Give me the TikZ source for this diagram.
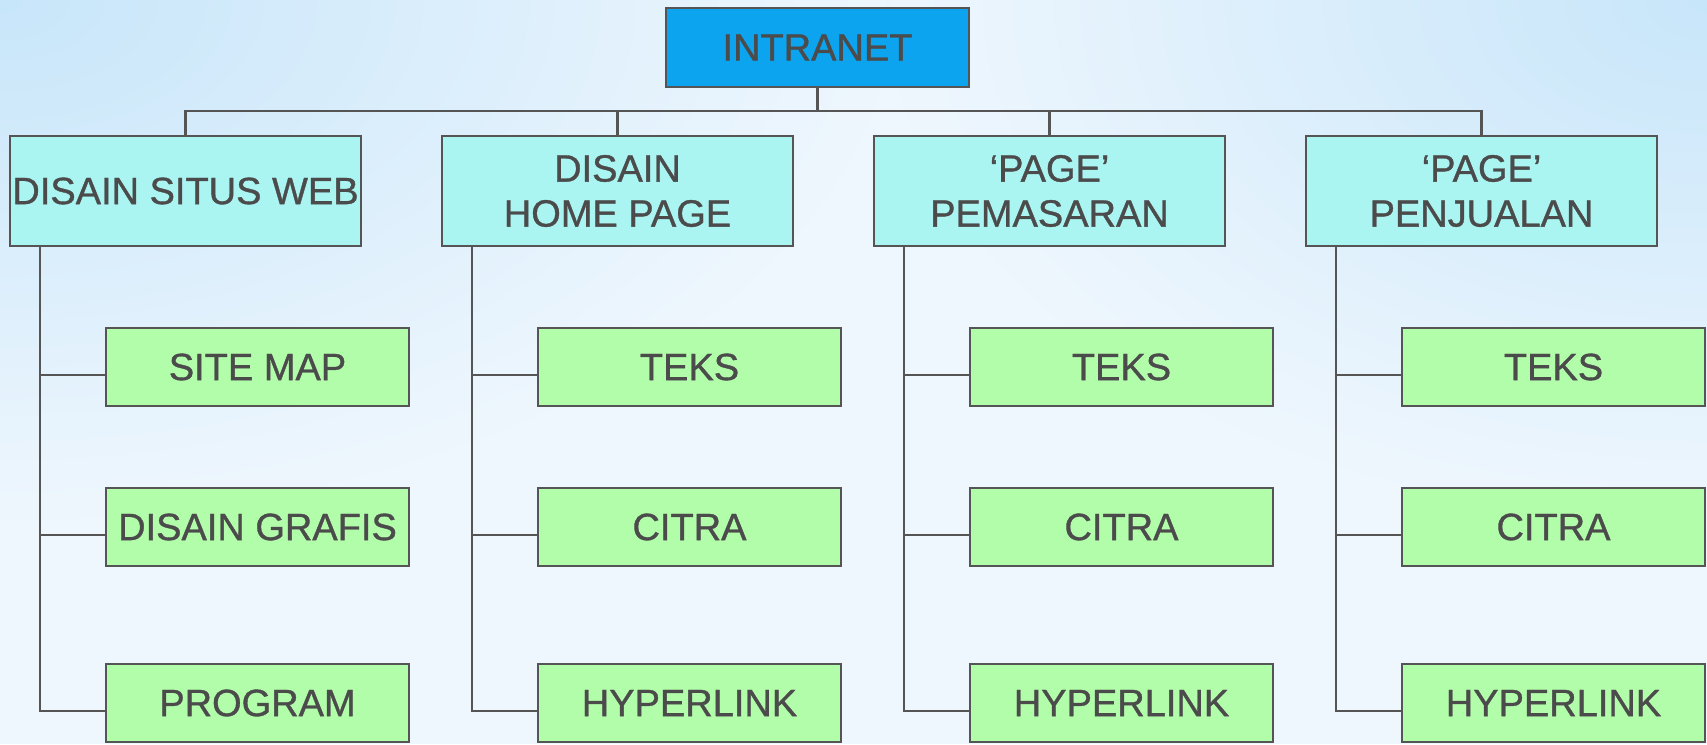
\documentclass[tikz,border=0pt]{standalone}
\usepackage{fontspec}
\setmainfont{Liberation Sans}[FakeBold=0.9]
\usetikzlibrary{fadings}
\definecolor{bgbase}{RGB}{239,247,254}
\definecolor{cornerblue}{RGB}{200,230,250}
\definecolor{topfill}{RGB}{12,164,239}
\definecolor{midfill}{RGB}{170,244,242}
\definecolor{leaffill}{RGB}{178,253,170}
\definecolor{edge}{RGB}{85,85,85}
\definecolor{txt}{RGB}{75,75,75}
\tikzfading[name=softfade, inner color=transparent!0, outer color=transparent!100]
\begin{document}
\begin{tikzpicture}[x=1pt,y=-1pt,
  boxbase/.style={draw=edge, line width=2pt, inner sep=0pt, text=txt, align=center,
    font=\fontsize{38}{45}\selectfont},
  topbox/.style={boxbase, fill=topfill, minimum width=303pt, minimum height=79pt},
  midbox/.style={boxbase, fill=midfill, minimum width=351pt, minimum height=110pt},
  leafbox/.style={boxbase, fill=leaffill, minimum width=303pt, minimum height=78pt},
  conn/.style={draw=edge, line width=2.2pt}]
\useasboundingbox (0,0) rectangle (1707,744);
\begin{scope}
  \clip (0,0) rectangle (1707,744);
  \fill[bgbase] (0,0) rectangle (1707,744);
  \fill[cornerblue, path fading=softfade] (0,0) ellipse (900 and 520);
  \fill[cornerblue, path fading=softfade] (1707,0) ellipse (820 and 520);
\end{scope}

\node[topbox] (top) at (817.5,47.5) {INTRANET};

\node[midbox] (m1) at (185.5,191) {DISAIN SITUS WEB};
\node[midbox] (m2) at (617.5,191) {DISAIN\\HOME PAGE};
\node[midbox] (m3) at (1049.5,191) {‘PAGE’\\PEMASARAN};
\node[midbox] (m4) at (1481.5,191) {‘PAGE’\\PENJUALAN};

\node[leafbox] (l11) at (257.5,367) {SITE MAP};
\node[leafbox] (l12) at (257.5,527) {DISAIN GRAFIS};
\node[leafbox] (l13) at (257.5,703) {PROGRAM};
\node[leafbox] (l21) at (689.5,367) {TEKS};
\node[leafbox] (l22) at (689.5,527) {CITRA};
\node[leafbox] (l23) at (689.5,703) {HYPERLINK};
\node[leafbox] (l31) at (1121.5,367) {TEKS};
\node[leafbox] (l32) at (1121.5,527) {CITRA};
\node[leafbox] (l33) at (1121.5,703) {HYPERLINK};
\node[leafbox] (l41) at (1553.5,367) {TEKS};
\node[leafbox] (l42) at (1553.5,527) {CITRA};
\node[leafbox] (l43) at (1553.5,703) {HYPERLINK};

\coordinate (bus) at (817.5,111);
\draw[conn] (top.south) -- (bus);
\draw[conn] (m1.north) |- (bus) -| (m4.north);
\draw[conn] (m2.north) -- (m2.north |- bus);
\draw[conn] (m3.north) -- (m3.north |- bus);

\foreach \c in {1,2,3,4}{
  \coordinate (v\c) at ([xshift=31pt]m\c.south west);
  \foreach \r in {1,2,3}{
    \coordinate (a\c\r) at ([yshift=-8pt]l\c\r.west);
  }
  \draw[conn] (v\c) -- (v\c |- a\c3) -- (a\c3);
  \draw[conn] (v\c |- a\c1) -- (a\c1);
  \draw[conn] (v\c |- a\c2) -- (a\c2);
}
\end{tikzpicture}
\end{document}
